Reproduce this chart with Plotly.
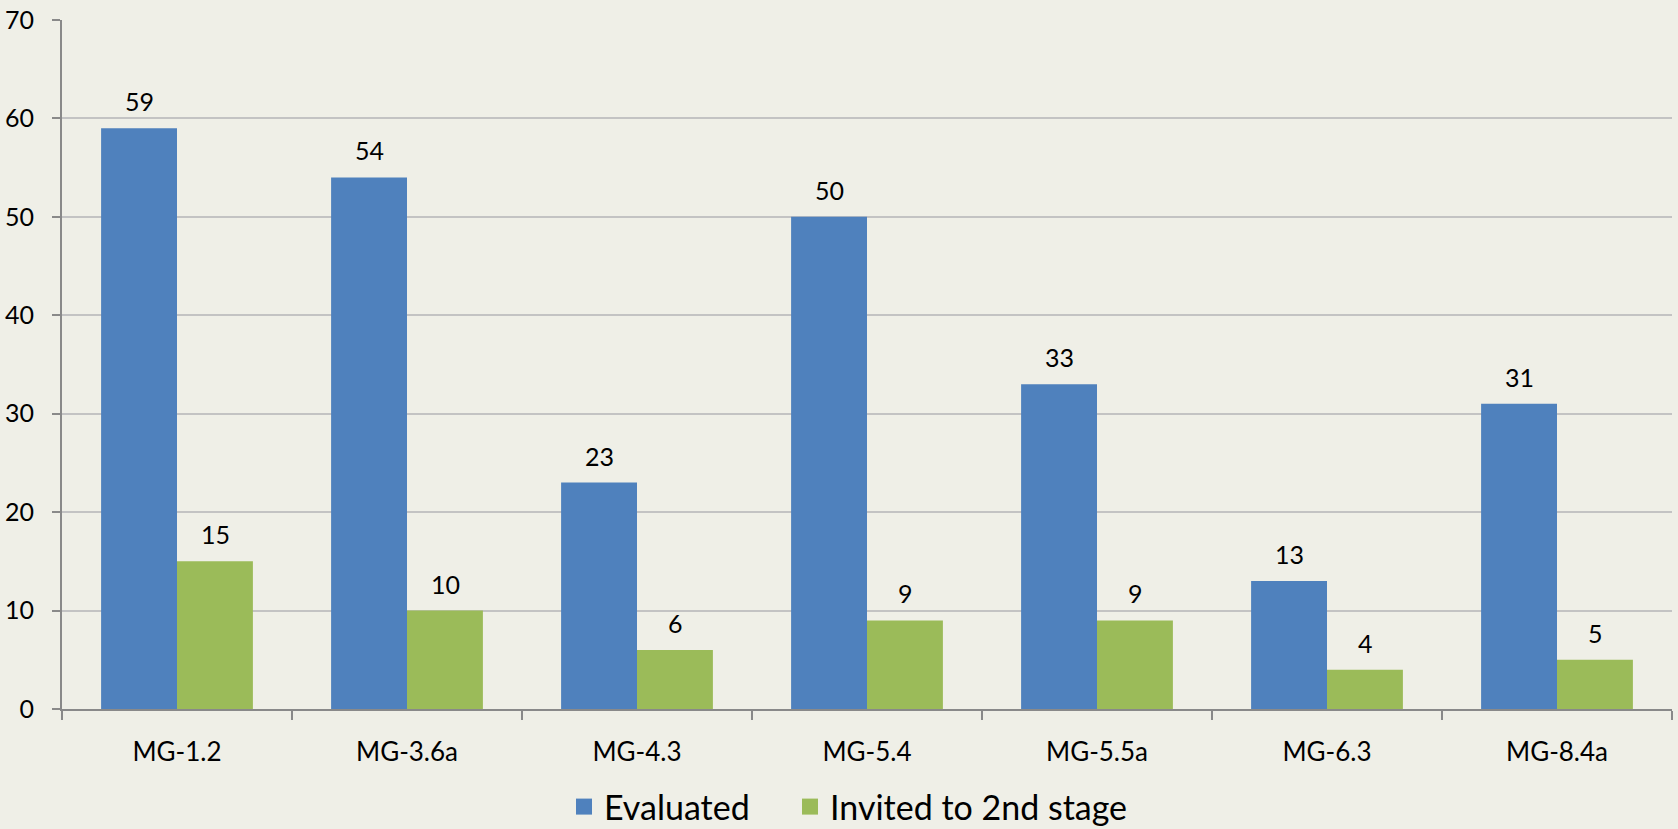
import plotly.graph_objects as go

categories = ["MG-1.2", "MG-3.6a", "MG-4.3", "MG-5.4", "MG-5.5a", "MG-6.3", "MG-8.4a"]
evaluated = [59, 54, 23, 50, 33, 13, 31]
invited = [15, 10, 6, 9, 9, 4, 5]
series_names = ["Evaluated", "Invited to 2nd stage"]
y_ticks = [0, 10, 20, 30, 40, 50, 60, 70]

BLUE = "#4F81BD"
GREEN = "#9BBB59"
BG = "#EFEFE7"
FONT = "Lato"

fig = go.Figure()
legend_ids = ["legend", "legend2"]
for name, vals, col, lg in [(series_names[0], evaluated, BLUE, legend_ids[0]),
                            (series_names[1], invited, GREEN, legend_ids[1])]:
    fig.add_trace(go.Bar(
        x=categories, y=vals, name=name, marker=dict(color=col, line=dict(width=0)),
        showlegend=False,
    ))
    # legend proxies with larger square symbols
    fig.add_trace(go.Scatter(
        x=[None], y=[None], mode="markers", name=name, legend=lg,
        marker=dict(symbol="square", size=16, color=col),
    ))

# value labels
for vals, shift in [(evaluated, -38), (invited, 38)]:
    for c, v in zip(categories, vals):
        fig.add_annotation(x=c, y=v, text=str(v), showarrow=False, xref="x", yref="y",
                           xshift=shift, yshift=27, font=dict(size=25, color="#000000", family=FONT))

legend_common = dict(orientation="h", xref="container", yref="container", xanchor="left",
                     y=1 - 807 / 829, yanchor="middle",
                     font=dict(size=34, family=FONT, color="#000000"), bgcolor="rgba(0,0,0,0)",
                     itemsizing="trace")

fig.update_layout(
    width=1678, height=829,
    paper_bgcolor=BG, plot_bgcolor=BG,
    margin=dict(l=62, r=6, t=20, b=120, autoexpand=False),
    barmode="group", bargap=0.34, bargroupgap=0,
    font=dict(family=FONT, color="#000000"),
    legend=dict(x=564 / 1678, **legend_common),
    legend2=dict(x=790 / 1678, **legend_common),
    xaxis=dict(showgrid=False, showline=True, linecolor="#898989", linewidth=2,
               ticks="outside", tickson="boundaries", ticklen=9, tickcolor="#898989", tickwidth=2,
               tickfont=dict(size=26, family=FONT, color="#000000"), ticklabelstandoff=19),
    yaxis=dict(range=[0, 70], tickvals=y_ticks, showgrid=True, gridcolor="#C3C3C3", gridwidth=1.5,
               showline=True, linecolor="#898989", linewidth=2, zeroline=False,
               ticks="outside", ticklen=8, tickcolor="#898989", tickwidth=2,
               tickfont=dict(size=25, family=FONT, color="#000000"), ticklabelstandoff=13),
)

fig.write_html("out.html", config={"displayModeBar": False},
               post_script="document.body.style.margin='0';document.body.style.overflow='hidden';")
